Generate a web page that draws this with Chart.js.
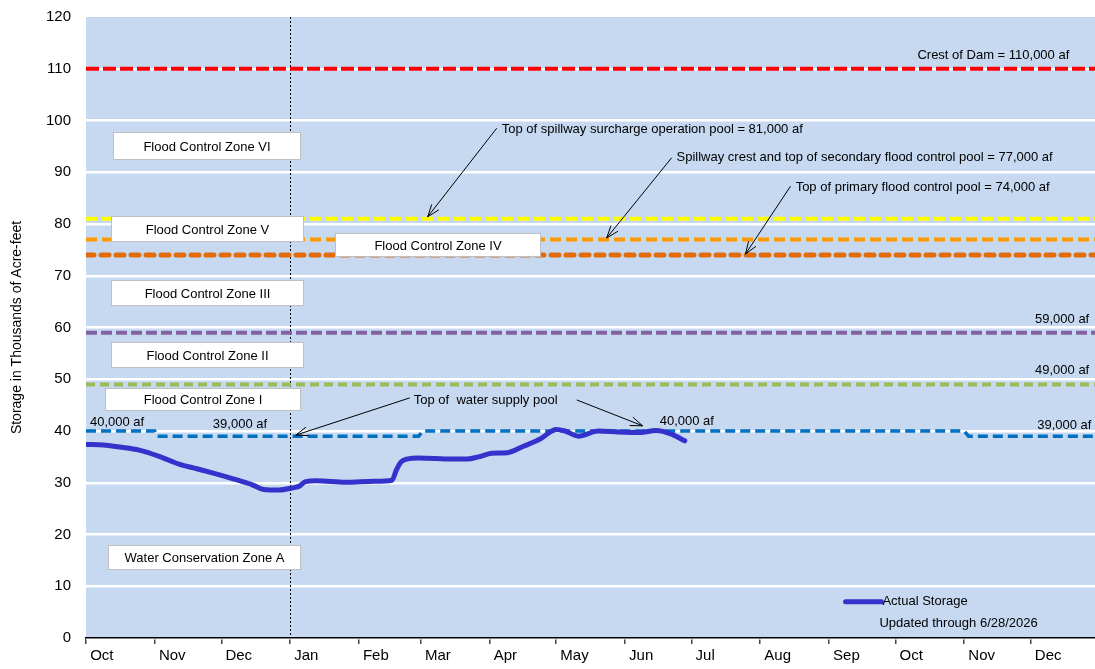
<!DOCTYPE html>
<html>
<head>
<meta charset="utf-8">
<script src="https://cdn.jsdelivr.net/npm/chart.js@4.4.1/dist/chart.umd.min.js"></script>
<style>
  html, body { margin: 0; padding: 0; background: #fff; }
</style>
</head>
<body>
<canvas id="myChart" width="1095" height="669"></canvas>
<script>
// x values are days counted from Oct 1
const monthLabels = ['Oct','Nov','Dec','Jan','Feb','Mar','Apr','May','Jun','Jul','Aug','Sep','Oct','Nov','Dec'];
const monthStartDays = [0, 31, 61, 92, 123, 151, 182, 212, 243, 273, 304, 335, 365, 396, 426];
const lastDay = 455;

// Actual storage (thousands of acre-feet)
const storageDays   = [0, 8, 15, 24, 33, 42, 50, 57, 66, 75, 80, 87, 93, 96, 99, 104, 117, 130, 138, 140, 142, 145, 150, 165, 172, 177, 183, 190, 197, 205, 212, 216, 222, 231, 240, 250, 257, 264, 270];
const storageValues = [37.4, 37.3, 36.9, 36.3, 35.1, 33.6, 32.7, 31.9, 30.8, 29.6, 28.7, 28.6, 29.0, 29.3, 30.2, 30.4, 30.1, 30.3, 30.5, 32.5, 34.0, 34.6, 34.8, 34.6, 34.6, 35.0, 35.7, 35.8, 37.0, 38.5, 40.3, 40.0, 39.0, 40.0, 39.8, 39.7, 40.1, 39.4, 38.1];

// Top of water supply pool
const poolDays   = [0, 31, 32, 150, 152, 396, 398, lastDay];
const poolValues = [40, 40, 39, 39, 40, 40, 39, 39];

// Reference levels
const crestOfDam = 110;
const surchargePool = 81;
const secondaryPool = 77;
const primaryPool = 74;
const level59 = 59;
const level49 = 49;
const janFirst = 92;

// Zone labels: [text, dayFrom, dayTo, valueTop, valueBottom]
const zoneBoxes = [
  ['Flood Control Zone VI', 12.2, 96.4, 97.8, 92.6],
  ['Flood Control Zone V', 11.3, 97.8, 81.5, 76.7],
  ['Flood Control Zone IV', 112.2, 204.6, 78.3, 73.8],
  ['Flood Control Zone III', 11.3, 97.8, 69.2, 64.3],
  ['Flood Control Zone II', 11.3, 97.8, 57.2, 52.4],
  ['Flood Control Zone I', 8.6, 96.4, 48.3, 44.1],
  ['Water Conservation Zone A', 9.9, 96.4, 18.0, 13.3]
];

// Text notes: [text, day, value, align]
const notes = [
  ['Crest of Dam = 110,000 af', 443.4, 112.5, 'right'],
  ['Top of spillway surcharge operation pool = 81,000 af', 187.5, 98.2, 'left'],
  ['Spillway crest and top of secondary flood control pool = 77,000 af', 266.3, 92.9, 'left'],
  ['Top of primary flood control pool = 74,000 af', 320, 87.1, 'left'],
  ['59,000 af', 452.4, 61.6, 'right'],
  ['49,000 af', 452.4, 51.8, 'right'],
  ['40,000 af', 1.8, 41.7, 'left'],
  ['39,000 af', 57.2, 41.2, 'left'],
  ['Top of  water supply pool', 147.8, 46.0, 'left'],
  ['40,000 af', 258.7, 41.9, 'left'],
  ['39,000 af', 453.4, 41.0, 'right'],
  ['Updated through 6/28/2026', 357.8, 2.9, 'left']
];

// Arrows: [dayFrom, valueFrom, dayTo, valueTo]
const arrows = [
  [185.2, 98.5, 154.1, 81.4],
  [264.1, 92.8, 234.8, 77.3],
  [317.7, 87.3, 297.4, 74.2],
  [146.0, 46.4, 94.6, 39.2],
  [221.3, 46.0, 251.0, 41.0]
];

const legendLine = [342.5, 358.7, 7.0];

const FONT = "'Liberation Sans', Arial, sans-serif";

function pts(xs, ys) {
  return xs.map((x, i) => ({ x: x, y: ys[i] }));
}
function flat(v) {
  return [{ x: 0, y: v }, { x: lastDay, y: v }];
}
function refLine(v, color, dash, width, cap) {
  return {
    label: '', data: flat(v), borderColor: color, borderWidth: width,
    borderDash: dash, borderCapStyle: cap || 'butt', pointRadius: 0, fill: false
  };
}

const backgroundPlugin = {
  id: 'plotBackground',
  beforeDraw(chart) {
    const a = chart.chartArea;
    const ctx = chart.ctx;
    ctx.save();
    ctx.fillStyle = '#C6D9F0';
    ctx.fillRect(a.left, a.top, a.right - a.left, a.bottom - a.top);
    ctx.restore();
  },
  beforeDatasetsDraw(chart) {
    const a = chart.chartArea;
    const ctx = chart.ctx;
    const x = Math.round(chart.scales.x.getPixelForValue(janFirst)) + 0.5;
    ctx.save();
    ctx.strokeStyle = '#000';
    ctx.lineWidth = 1;
    ctx.setLineDash([2, 2]);
    ctx.beginPath();
    ctx.moveTo(x, a.top);
    ctx.lineTo(x, a.bottom);
    ctx.stroke();
    ctx.restore();
  }
};

const notesPlugin = {
  id: 'notes',
  afterDatasetsDraw(chart) {
    const ctx = chart.ctx;
    const xs = chart.scales.x, ys = chart.scales.y;
    ctx.save();
    ctx.font = '13px ' + FONT;
    ctx.textBaseline = 'middle';

    // zone boxes
    zoneBoxes.forEach(b => {
      const x1 = Math.round(xs.getPixelForValue(b[1])) + 0.5;
      const x2 = Math.round(xs.getPixelForValue(b[2])) + 0.5;
      const y1 = Math.round(ys.getPixelForValue(b[3])) + 0.5;
      const y2 = Math.round(ys.getPixelForValue(b[4])) + 0.5;
      ctx.fillStyle = '#fff';
      ctx.fillRect(x1, y1, x2 - x1, y2 - y1);
      ctx.strokeStyle = '#BFBFBF';
      ctx.lineWidth = 1;
      ctx.strokeRect(x1, y1, x2 - x1, y2 - y1);
      ctx.fillStyle = '#000';
      ctx.textAlign = 'center';
      ctx.fillText(b[0], (x1 + x2) / 2, (y1 + y2) / 2 + 1);
    });

    // notes
    ctx.fillStyle = '#000';
    notes.forEach(n => {
      ctx.textAlign = n[3];
      ctx.fillText(n[0], xs.getPixelForValue(n[1]), ys.getPixelForValue(n[2]));
    });

    // arrows
    ctx.strokeStyle = '#000';
    ctx.lineWidth = 1;
    arrows.forEach(a => {
      const x1 = xs.getPixelForValue(a[0]), y1 = ys.getPixelForValue(a[1]);
      const x2 = xs.getPixelForValue(a[2]), y2 = ys.getPixelForValue(a[3]);
      const ang = Math.atan2(y2 - y1, x2 - x1);
      const h = 13;
      ctx.beginPath();
      ctx.moveTo(x1, y1);
      ctx.lineTo(x2, y2);
      ctx.moveTo(x2 - h * Math.cos(ang - 0.35), y2 - h * Math.sin(ang - 0.35));
      ctx.lineTo(x2, y2);
      ctx.lineTo(x2 - h * Math.cos(ang + 0.35), y2 - h * Math.sin(ang + 0.35));
      ctx.stroke();
    });

    // legend
    const ly = ys.getPixelForValue(legendLine[2]);
    ctx.strokeStyle = '#3333CC';
    ctx.lineWidth = 5;
    ctx.lineCap = 'round';
    ctx.beginPath();
    ctx.moveTo(xs.getPixelForValue(legendLine[0]), ly);
    ctx.lineTo(xs.getPixelForValue(legendLine[1]), ly);
    ctx.stroke();
    ctx.textAlign = 'left';
    ctx.fillText(chart.data.datasets[0].label, xs.getPixelForValue(legendLine[1]) + 1, ly);
    ctx.restore();
  }
};

const ctx = document.getElementById('myChart').getContext('2d');
const chart = new Chart(ctx, {
  type: 'line',
  data: {
    datasets: [
      {
        label: 'Actual Storage',
        data: pts(storageDays, storageValues),
        borderColor: '#3333CC',
        borderWidth: 5,
        pointRadius: 0,
        cubicInterpolationMode: 'monotone',
        borderCapStyle: 'round',
        borderJoinStyle: 'round',
        fill: false
      },
      {
        label: 'Top of water supply pool',
        data: pts(poolDays, poolValues),
        borderColor: '#0070C0',
        borderWidth: 3.5,
        borderDash: [10, 5],
        pointRadius: 0,
        fill: false
      },
      refLine(crestOfDam, '#FF0000', [13, 4], 4),
      refLine(surchargePool, '#FFFF00', [11, 5], 4),
      refLine(secondaryPool, '#FF9900', [11, 5], 4),
      refLine(primaryPool, '#E36C09', [8, 7], 5, 'round'),
      refLine(level59, '#8064A2', [11, 4], 4),
      refLine(level49, '#9BBB59', [9, 5], 4)
    ]
  },
  options: {
    responsive: false,
    animation: false,
    layout: { padding: { top: 17, right: 0, left: 0, bottom: 0 } },
    plugins: {
      legend: { display: false },
      tooltip: { enabled: false }
    },
    scales: {
      x: {
        type: 'linear',
        min: 0,
        max: lastDay,
        afterBuildTicks: s => { s.ticks = monthStartDays.map(v => ({ value: v })); },
        ticks: {
          autoSkip: false,
          maxRotation: 0,
          align: 'start',
          padding: 3,
          color: '#000',
          font: { family: FONT, size: 15 },
          callback: (v, i) => ' ' + monthLabels[i]
        },
        grid: { drawOnChartArea: false, drawTicks: true, tickLength: 6, color: '#444', lineWidth: 1.5 },
        border: { display: true, color: '#000', width: 1.5 },
        afterFit: s => { s.height = 31; s.paddingLeft = 0; s.paddingRight = 0; }
      },
      y: {
        min: 0,
        max: 120,
        ticks: {
          stepSize: 10,
          color: '#000',
          padding: 15,
          font: { family: FONT, size: 15 }
        },
        grid: {
          color: c => (c.tick && c.tick.value === 120 ? 'rgba(0,0,0,0)' : '#fff'),
          lineWidth: 2.5,
          drawTicks: false
        },
        border: { display: false },
        title: {
          display: true,
          text: 'Storage in Thousands of Acre-feet',
          color: '#000',
          font: { family: FONT, size: 14 },
          padding: { top: 9, bottom: 0 }
        },
        afterFit: s => { s.width = 86; s.paddingTop = 0; s.paddingBottom = 0; }
      }
    }
  },
  plugins: [backgroundPlugin, notesPlugin]
});
</script>
</body>
</html>
